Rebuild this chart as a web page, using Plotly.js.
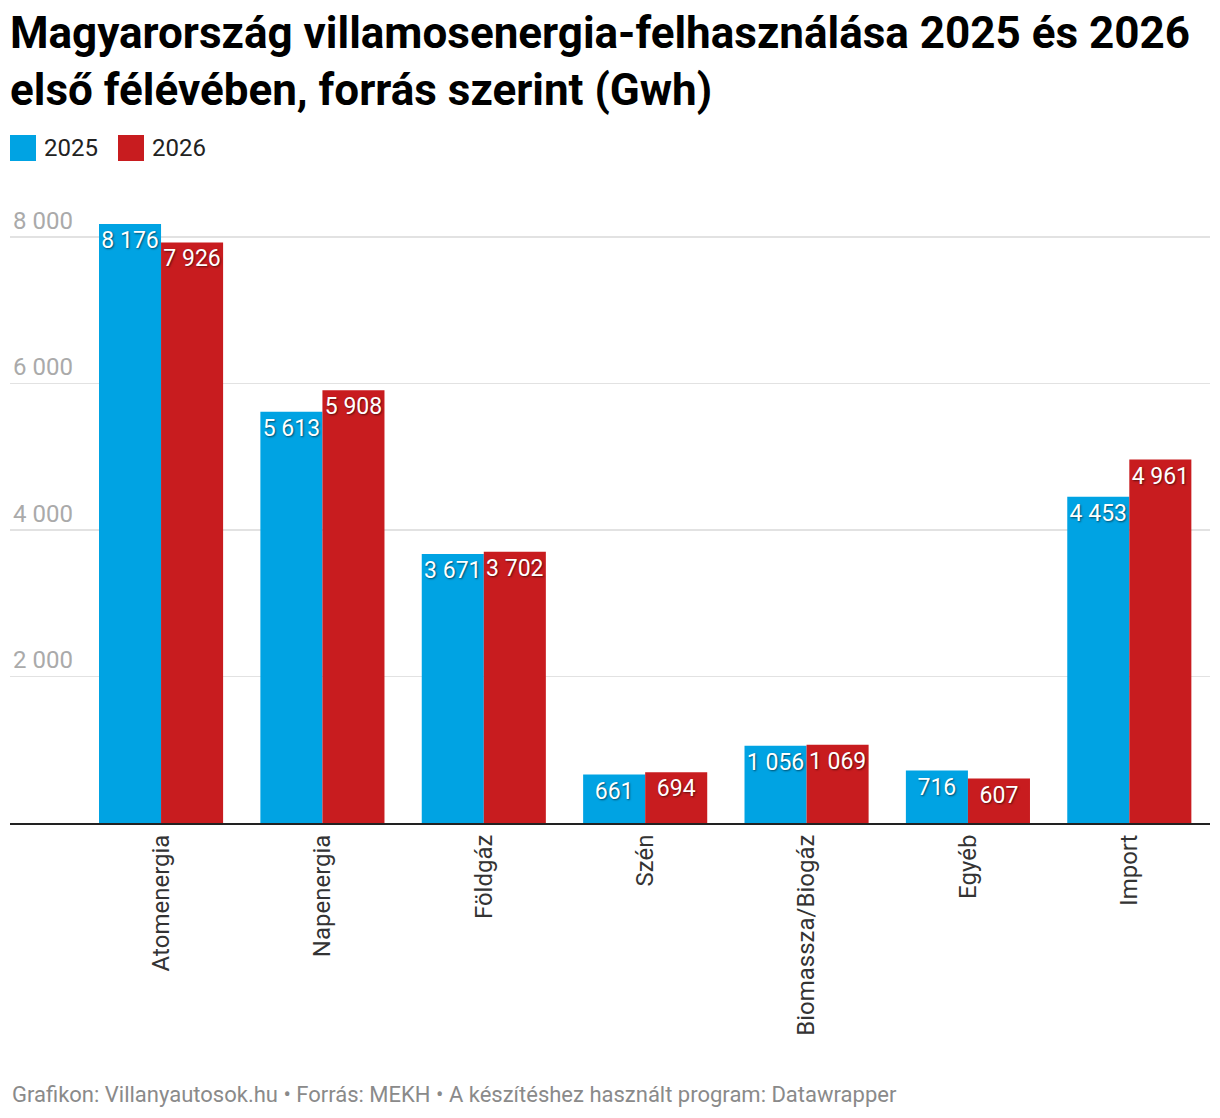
<!DOCTYPE html>
<html>
<head>
<meta charset="utf-8">
<script src="https://cdn.plot.ly/plotly-3.0.1.min.js"></script>
<style>
  body { margin: 0; background: #fff; }
  #chart { width: 1220px; height: 1118px; }
</style>
</head>
<body>
<div id="chart"></div>
<script>
// forrás szerinti kategóriák
var sources = ['Atomenergia', 'Napenergia', 'Földgáz', 'Szén', 'Biomassza/Biogáz', 'Egyéb', 'Import'];
var years = ['2025', '2026'];
var values2025 = [8176, 5613, 3671, 661, 1056, 716, 4453];
var values2026 = [7926, 5908, 3702, 694, 1069, 607, 4961];
var yTicks = [2000, 4000, 6000, 8000];
var colors = ['#00a3e3', '#c81c1f'];

var W = 1220, H = 1118;
var plotLeft = 10, plotRight = 1210, plotTop = 200, plotBottom = 823;

// pixel -> paper coords (for legend + footer)
function px(x) { return (x - plotLeft) / (plotRight - plotLeft); }
function py(y) { return (plotBottom - y) / (plotBottom - plotTop); }

function barTrace(name, vals, color) {
    return {
        type: 'bar',
        name: name,
        x: sources,
        y: vals,
        marker: {color: color, line: {width: 0}},
        texttemplate: '%{y:,}',
        textposition: 'inside',
        insidetextanchor: 'end',
        textangle: 0,
        textfont: {family: 'Roboto', size: 23, color: '#ffffff', shadow: '1px 1px 2px rgba(0,0,0,0.55)'},
        hoverinfo: 'x+y',
        cliponaxis: false
    };
}

var data = [
    barTrace(years[0], values2025, colors[0]),
    barTrace(years[1], values2026, colors[1])
];

// legend drawn by hand, the default bar swatch is too small
var shapes = [];
var annotations = [];
var legX = [10, 118];
for (var i = 0; i < years.length; i++) {
    shapes.push({
        type: 'rect', xref: 'paper', yref: 'paper',
        x0: px(legX[i]), x1: px(legX[i] + 26),
        y0: py(161), y1: py(135),
        fillcolor: colors[i], line: {width: 0}
    });
    annotations.push({
        xref: 'paper', yref: 'paper',
        x: px(legX[i] + 32), y: py(148),
        xanchor: 'left', yanchor: 'middle',
        text: years[i], showarrow: false,
        font: {family: 'Roboto', size: 24, color: '#222'}
    });
}

annotations.push({
    xref: 'paper', yref: 'paper',
    x: 0, y: py(1094),
    xanchor: 'left', yanchor: 'middle',
    text: 'Grafikon: Villanyautosok.hu • Forrás: MEKH • A készítéshez használt program: Datawrapper',
    showarrow: false,
    font: {family: 'Roboto', size: 22, color: '#8a8a8a'}
});

var layout = {
    width: W,
    height: H,
    autosize: false,
    separators: ', ',
    margin: {l: plotLeft, r: W - plotRight, t: plotTop, b: H - plotBottom, pad: 0},
    paper_bgcolor: '#ffffff',
    plot_bgcolor: '#ffffff',
    font: {family: 'Roboto', color: '#333'},
    title: {
        text: 'Magyarország villamosenergia-felhasználása 2025 és 2026<br>első félévében, forrás szerint (Gwh)',
        font: {family: 'Roboto', size: 44, color: '#000', weight: 'bold'},
        xref: 'container', yref: 'container',
        x: 10 / W, xanchor: 'left',
        y: 1 - 48 / H, yanchor: 'top'
    },
    showlegend: false,
    barmode: 'group',
    bargap: 0.231,
    bargroupgap: 0,
    xaxis: {
        type: 'category',
        range: [-0.936, 6.5],
        tickangle: -90,
        tickfont: {family: 'Roboto', size: 24, color: '#333'},
        ticks: '',
        showgrid: false,
        showline: true,
        linecolor: '#222',
        linewidth: 2,
        zeroline: false,
        fixedrange: true
    },
    yaxis: {
        range: [0, 8505],
        tickvals: yTicks,
        tickformat: ',',
        ticklabelposition: 'inside top',
        tickfont: {family: 'Roboto', size: 24, color: '#aaaaaa'},
        showgrid: true,
        gridcolor: '#e2e2e2',
        gridwidth: 1.5,
        zeroline: false,
        showline: false,
        ticks: '',
        fixedrange: true
    },
    uniformtext: {mode: 'show', minsize: 23},
    shapes: shapes,
    annotations: annotations
};

Plotly.newPlot('chart', data, layout, {displayModeBar: false, staticPlot: true});
</script>
</body>
</html>
